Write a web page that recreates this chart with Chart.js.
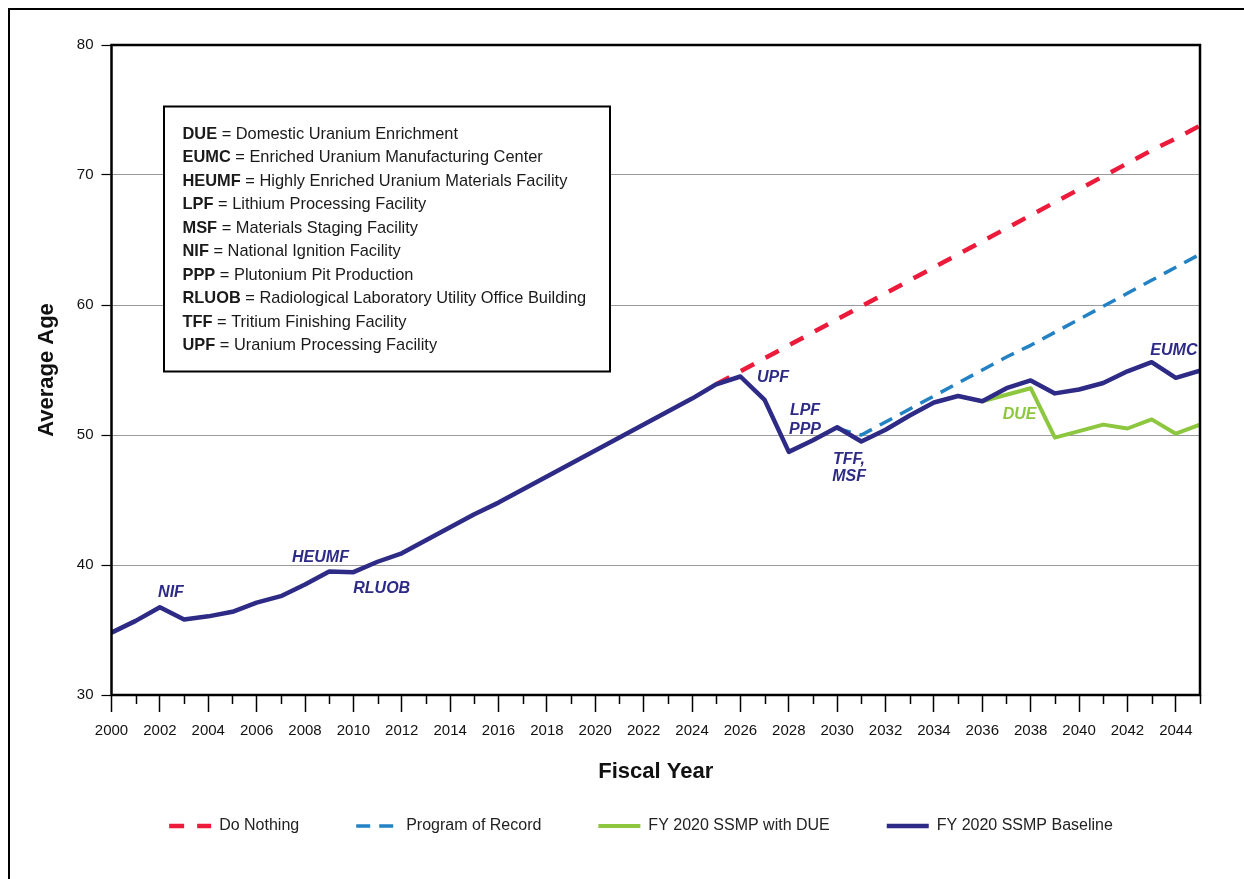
<!DOCTYPE html>
<html>
<head>
<meta charset="utf-8">
<script src="https://cdn.jsdelivr.net/npm/chart.js@4.4.0/dist/chart.umd.min.js"></script>
<style>
html,body{margin:0;padding:0;background:#fff;}
#wrap{position:relative;width:1244px;height:879px;overflow:hidden;}
#frame{position:absolute;left:8px;top:8px;width:1300px;height:1000px;border:2.5px solid #000;box-sizing:border-box;}
#c{position:absolute;left:0;top:0;}
</style>
</head>
<body>
<div id="wrap"><div id="frame"></div><canvas id="c" width="1244" height="879"></canvas></div>
<script>
// ---- data ----
const years = [2000,2001,2002,2003,2004,2005,2006,2007,2008,2009,2010,2011,2012,2013,2014,2015,2016,2017,2018,2019,2020,2021,2022,2023,2024,2025,2026,2027,2028,2029,2030,2031,2032,2033,2034,2035,2036,2037,2038,2039,2040,2041,2042,2043,2044,2045];
const baseline = [34.8,35.7,36.75,35.8,36.05,36.4,37.1,37.6,38.5,39.5,39.45,40.25,40.9,41.9,42.9,43.9,44.8,45.8,46.8,47.8,48.8,49.8,50.8,51.8,52.8,53.9,54.5,52.7,48.7,49.6,50.6,49.5,50.4,51.5,52.5,53.0,52.6,53.6,54.2,53.2,53.5,54.0,54.9,55.6,54.4,54.95];
const withDUE = [null,null,null,null,null,null,null,null,null,null,null,null,null,null,null,null,null,null,null,null,null,null,null,null,null,null,null,null,null,null,null,null,null,null,null,null,52.6,53.1,53.6,49.8,50.3,50.8,50.5,51.2,50.1,50.8];
const doNothing = [null,null,null,null,null,null,null,null,null,null,null,null,null,null,null,null,null,null,null,null,null,null,null,null,null,53.9,54.9,55.9,56.9,57.9,58.9,59.9,60.9,61.9,62.9,63.9,64.9,65.9,66.9,67.9,68.9,69.9,70.9,71.9,72.8,73.8];
const programOfRecord = [null,null,null,null,null,null,null,null,null,null,null,null,null,null,null,null,null,null,null,null,null,null,null,null,null,null,null,null,null,null,50.5,50.0,51.0,52.0,53.0,54.0,55.0,56.0,56.9,57.9,58.9,59.9,60.9,61.9,62.9,63.9];
const seriesNames = ['Do Nothing','Program of Record','FY 2020 SSMP with DUE','FY 2020 SSMP Baseline'];
const yTickValues = [30,40,50,60,70,80];
const abbrCodes = ['DUE','EUMC','HEUMF','LPF','MSF','NIF','PPP','RLUOB','TFF','UPF'];
const abbrNames = ['Domestic Uranium Enrichment','Enriched Uranium Manufacturing Center','Highly Enriched Uranium Materials Facility','Lithium Processing Facility','Materials Staging Facility','National Ignition Facility','Plutonium Pit Production','Radiological Laboratory Utility Office Building','Tritium Finishing Facility','Uranium Processing Facility'];
const noteTexts = ['NIF','HEUMF','RLUOB','UPF','LPF','PPP','TFF,','MSF','DUE','EUMC'];
const noteYears = [2002.46,2008.64,2011.17,2027.35,2028.67,2028.67,2030.49,2030.49,2037.54,2043.92];
const noteValues = [37.85,40.58,38.15,54.45,51.9,50.45,48.1,46.8,51.55,56.46];
const noteSeries = [3,3,3,3,3,3,3,3,2,3];

// ---- styles ----
const FONT = '"Liberation Sans", Arial, Helvetica, sans-serif';
const colors = ['#ED1B3B','#2282C3','#8DC63F','#2E2B87'];

const pts = arr => years.map((y,i) => ({x:y, y:arr[i]}));

const annotationsPlugin = {
  id: 'notes',
  afterDatasetsDraw(chart){
    const {ctx, scales:{x, y}} = chart;
    ctx.save();
    ctx.font = 'italic bold 16px ' + FONT;
    ctx.textAlign = 'center';
    ctx.textBaseline = 'middle';
    noteTexts.forEach((t,i) => {
      ctx.fillStyle = colors[noteSeries[i]];
      ctx.fillText(t, x.getPixelForValue(noteYears[i]), y.getPixelForValue(noteValues[i]));
    });
    ctx.restore();
  }
};

const abbrevPlugin = {
  id: 'abbrev',
  afterDatasetsDraw(chart){
    const {ctx, chartArea:a} = chart;
    const x0 = a.left + 52.5, y0 = a.top + 61.5, w = 446, h = 265;
    ctx.save();
    ctx.fillStyle = '#fff';
    ctx.fillRect(x0, y0, w, h);
    ctx.lineWidth = 2;
    ctx.strokeStyle = '#000';
    ctx.strokeRect(x0, y0, w, h);
    ctx.textBaseline = 'middle';
    ctx.textAlign = 'left';
    ctx.fillStyle = '#1a1a1a';
    abbrCodes.forEach((code,i) => {
      const ty = y0 + 27.8 + i*23.5;
      let tx = x0 + 18.5;
      ctx.font = 'bold 16.4px ' + FONT;
      ctx.fillText(code, tx, ty);
      tx += ctx.measureText(code).width;
      ctx.font = '16.4px ' + FONT;
      ctx.fillText(' = ' + abbrNames[i], tx, ty);
    });
    ctx.restore();
  }
};

const framePlugin = {
  id: 'frame',
  afterDraw(chart){
    const {ctx, chartArea:a, scales:{x}} = chart;
    ctx.save();
    ctx.strokeStyle = '#000';
    ctx.lineWidth = 1.5;
    years.forEach(yr => {
      if (yr % 2 === 1) {
        const px = Math.round(x.getPixelForValue(yr)) + 0.5;
        ctx.beginPath();
        ctx.moveTo(px, a.bottom);
        ctx.lineTo(px, a.bottom + 9);
        ctx.stroke();
      }
    });
    ctx.lineWidth = 2.5;
    ctx.strokeRect(a.left, a.top, a.right - a.left, a.bottom - a.top);
    ctx.restore();
  }
};

new Chart(document.getElementById('c'), {
  type: 'line',
  data: {
    datasets: [
      { label: seriesNames[0], data: pts(doNothing), borderColor: colors[0], backgroundColor: colors[0], borderWidth: 4.5, borderDash: [15,13], order: 4 },
      { label: seriesNames[1], data: pts(programOfRecord), borderColor: colors[1], backgroundColor: colors[1], borderWidth: 3.5, borderDash: [14,9], order: 3 },
      { label: seriesNames[2], data: pts(withDUE), borderColor: colors[2], backgroundColor: colors[2], borderWidth: 4, order: 2 },
      { label: seriesNames[3], data: pts(baseline), borderColor: colors[3], backgroundColor: colors[3], borderWidth: 4.5, order: 1 }
    ]
  },
  options: {
    responsive: false,
    animation: false,
    devicePixelRatio: 1,
    spanGaps: false,
    elements: { point: { radius: 0, hoverRadius: 0 }, line: { tension: 0, borderJoinStyle: 'round', borderCapStyle: 'butt' } },
    layout: { padding: { left: 82, right: 44, top: 45, bottom: 35 } },
    plugins: {
      tooltip: { enabled: false },
      legend: {
        position: 'bottom',
        align: 'center',
        labels: {
          usePointStyle: true,
          pointStyle: 'line',
          pointStyleWidth: 42,
          padding: 57,
          color: '#222',
          font: { family: FONT, size: 16 },
          sort: (a, b) => a.datasetIndex - b.datasetIndex,
          generateLabels: chart => {
            const items = Chart.defaults.plugins.legend.labels.generateLabels(chart);
            items.forEach(it => {
              const ds = chart.data.datasets[it.datasetIndex];
              it.lineDash = ds.borderDash || [];
              it.lineWidth = ds.borderWidth;
              it.strokeStyle = ds.borderColor;
              it.fillStyle = ds.borderColor;
              it.pointStyle = 'line';
            });
            return items;
          }
        }
      }
    },
    scales: {
      x: {
        type: 'linear',
        min: years[0],
        max: years[years.length - 1],
        afterFit: s => { s.height = 66; },
        border: { display: false },
        grid: { drawOnChartArea: false, drawTicks: true, tickLength: 17, tickColor: '#000', tickWidth: 1.5 },
        ticks: {
          stepSize: 2,
          includeBounds: false,
          autoSkip: false,
          maxRotation: 0,
          padding: 10,
          color: '#111',
          font: { family: FONT, size: 15 },
          callback: v => (v % 2 === 0 ? String(v) : '')
        },
        title: { display: true, text: 'Fiscal Year', color: '#111', font: { family: FONT, size: 22, weight: 'bold' }, padding: { top: 0, bottom: -24 } }
      },
      y: {
        min: yTickValues[0],
        max: yTickValues[yTickValues.length - 1],
        afterFit: s => { s.width = 29.5; },
        afterUpdate: s => { s._computeLabelArea = () => undefined; },
        afterBuildTicks: s => { s.ticks = yTickValues.map(v => ({ value: v })); },
        border: { display: false },
        grid: { color: '#9a9a9a', lineWidth: 1, drawTicks: true, tickLength: 10, tickColor: '#000', tickWidth: 1.2 },
        ticks: { padding: 8, color: '#111', font: { family: FONT, size: 15 } },
        title: { display: true, text: 'Average Age', color: '#111', font: { family: FONT, size: 22, weight: 'bold' }, padding: { top: -48, bottom: 0 } }
      }
    }
  },
  plugins: [abbrevPlugin, annotationsPlugin, framePlugin]
});
</script>
</body>
</html>
